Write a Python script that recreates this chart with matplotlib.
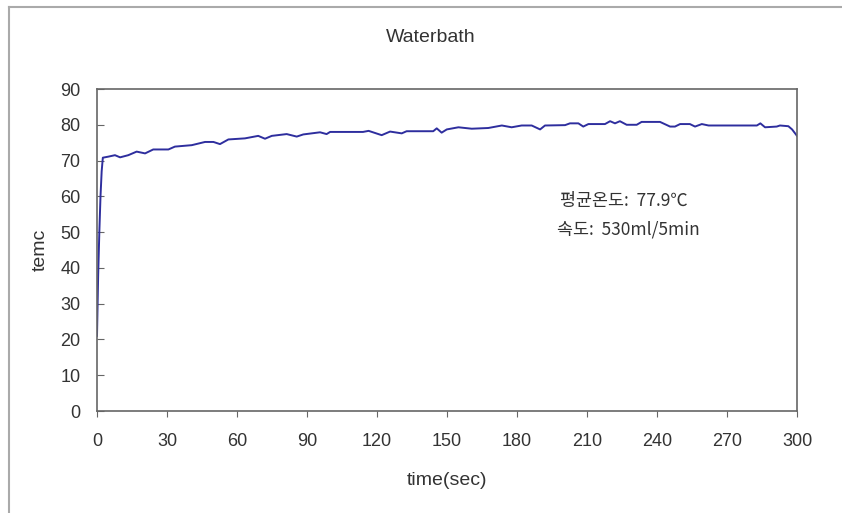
import matplotlib.pyplot as plt
from matplotlib.lines import Line2D

plt.rcParams['font.family'] = ['Liberation Sans', 'DejaVu Sans']

time_sec = [0, 0.5, 1, 1.5, 2, 2.5, 4.9, 7.7, 9.9, 13.4, 17, 20.6, 24.1, 30.6, 33.4,
            40.6, 46.3, 49.9, 52.7, 56.3, 63.4, 69.1, 72, 74.9, 81.3, 85.6, 88.4,
            95.6, 98.4, 99.9, 114, 116.4, 122, 125.6, 130.6, 132.7, 144.1, 145.6,
            147.7, 149.9, 154.9, 160.6, 167.7, 173.5, 177.7, 182, 186.3, 189.9,
            192, 200.6, 202.7, 206.3, 208.4, 210.6, 217.7, 219.9, 222, 224.1, 227,
            231.3, 233.4, 241.3, 245.6, 247.7, 249.9, 254.1, 256.3, 259.2, 262.1,
            282.8, 284.3, 286.3, 291.3, 292.7, 296.3, 297.9, 300]
temp_c = [21, 38, 50, 60, 67, 70.8, 71.1, 71.5, 70.9, 71.5, 72.5, 72.0, 73.1, 73.1, 73.9,
          74.3, 75.2, 75.2, 74.6, 75.9, 76.2, 76.9, 76.1, 76.9, 77.4, 76.7, 77.3,
          77.9, 77.4, 78.0, 78.0, 78.3, 77.1, 78.1, 77.6, 78.2, 78.2, 79.0,
          77.8, 78.7, 79.3, 78.9, 79.1, 79.8, 79.3, 79.8, 79.8, 78.7,
          79.8, 79.9, 80.4, 80.4, 79.5, 80.2, 80.2, 81.0, 80.4, 81.0, 80.0,
          80.0, 80.8, 80.8, 79.5, 79.5, 80.2, 80.2, 79.5, 80.2, 79.8,
          79.8, 80.4, 79.3, 79.5, 79.8, 79.6, 78.7, 76.9]

x_ticks = list(range(0, 301, 30))
y_ticks = list(range(0, 91, 10))

txt_col = '#333333'
fig = plt.figure(figsize=(8.42, 5.13), dpi=100)
ax = fig.add_axes([97/842, 1-411/513, 700/842, 322/513])

ax.plot(time_sec, temp_c, color='#2E2E9E', lw=1.4)
ax.set_xlim(0, 300)
ax.set_ylim(0, 90)
ax.set_xticks(x_ticks)
ax.set_yticks(y_ticks)
ax.tick_params(axis='y', direction='in', length=5, labelsize=13, colors='#666666',
               labelcolor=txt_col, pad=12)
ax.tick_params(axis='x', direction='out', length=4, labelsize=13, colors='#666666',
               labelcolor=txt_col, pad=12)
for s in ax.spines.values():
    s.set_color('#666666')
    s.set_linewidth(1.2)

ax.set_xlabel('time(sec)', fontsize=14, color=txt_col, labelpad=16)
ax.set_ylabel('temc', fontsize=14, color=txt_col, labelpad=8)
fig.text(431/842, 1-38/513, 'Waterbath', ha='center', va='center', fontsize=14, color=txt_col)

ax.text(560/842, 1-201/513, '평균온도:  77.9℃', transform=fig.transFigure,
        family=['Noto Sans CJK KR', 'DejaVu Sans'], fontsize=12.5, color=txt_col, va='center')
ax.text(557/842, 1-229/513, '속도:  530ml/5min', transform=fig.transFigure,
        family=['Noto Sans CJK KR', 'DejaVu Sans'], fontsize=12.5, color=txt_col, va='center')

# 바깥 테두리
fig.add_artist(Line2D([9/842, 9/842], [0, 1-7/513], color='#aaaaaa', lw=1.5))
fig.add_artist(Line2D([9/842, 1], [1-7/513, 1-7/513], color='#aaaaaa', lw=1.5))

fig.savefig('out.png', dpi=100)
